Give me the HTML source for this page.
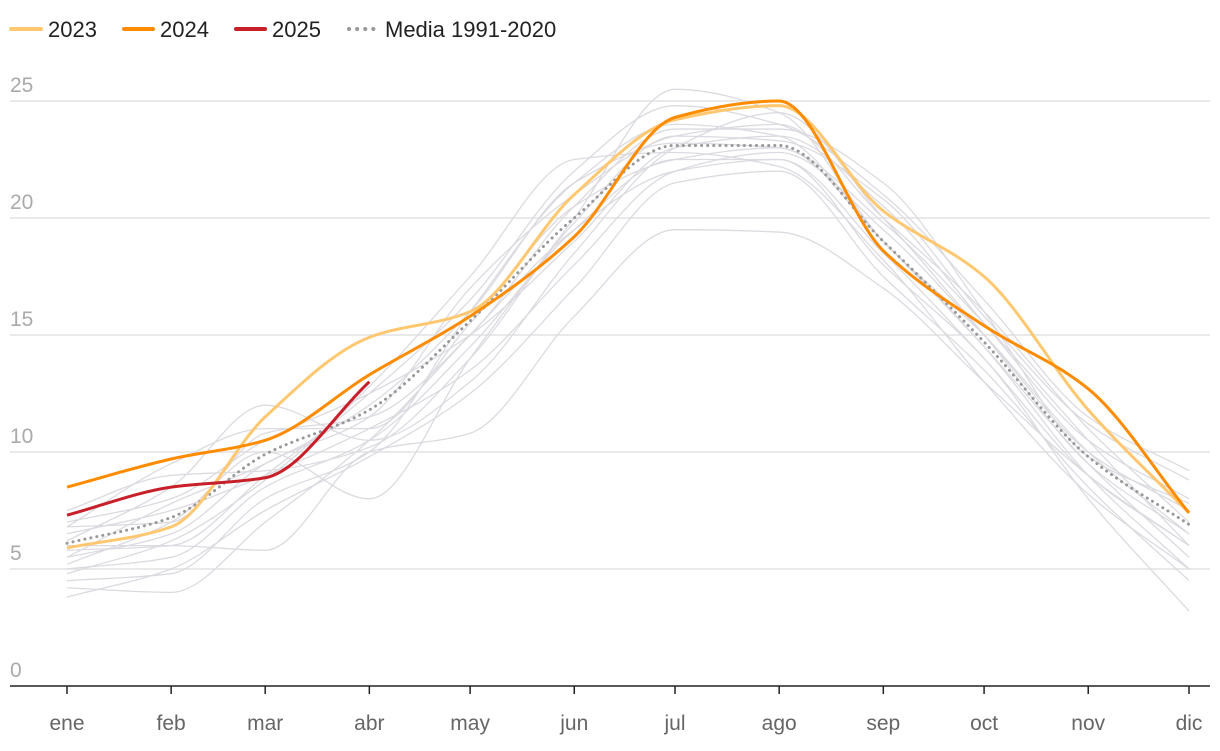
<!DOCTYPE html>
<html><head><meta charset="utf-8"><style>
body{margin:0;background:#fff;font-family:"Liberation Sans",sans-serif}
svg text{font-family:"Liberation Sans",sans-serif}
</style></head><body>
<svg id="chart" width="1220" height="746">
<g id="legend">
<g><line x1="11" y1="29" x2="41" y2="29" stroke="#ffc870" stroke-width="4" stroke-linecap="round"/><text x="48" y="37" font-size="22" fill="#222">2023</text></g>
<g><line x1="124" y1="29" x2="153" y2="29" stroke="#ff8c00" stroke-width="4" stroke-linecap="round"/><text x="160" y="37" font-size="22" fill="#222">2024</text></g>
<g><line x1="236" y1="29" x2="265" y2="29" stroke="#c8202a" stroke-width="4" stroke-linecap="round"/><text x="272" y="37" font-size="22" fill="#222">2025</text></g>
<g><line x1="349" y1="29" x2="378" y2="29" stroke="#999" stroke-width="4" stroke-linecap="round" stroke-dasharray="0.1 8"/><text x="385" y="37" font-size="22" fill="#222">Media 1991-2020</text></g>
</g>
<g id="grid"></g><g id="gray"></g><g id="main"></g><g id="xaxis"></g>
</svg>
<script>
const months=["ene","feb","mar","abr","may","jun","jul","ago","sep","oct","nov","dic"];
const monthDays=[0,31,59,90,120,151,181,212,243,273,304,334];
const yTicks=[0,5,10,15,20,25];
const s2023=[5.9,6.8,11.5,14.9,16.0,21.0,24.2,24.8,20.3,17.5,11.8,7.4];
const s2024=[8.5,9.7,10.5,13.3,15.8,19.2,24.3,25.0,18.6,15.4,12.7,7.4];
const s2025=[7.3,8.5,8.9,13.0];
const media=[6.1,7.2,9.9,11.8,15.6,20.0,23.1,23.1,19.0,14.7,9.8,6.9];
const g1=[5.0,5.5,8.5,10.5,14.5,19.5,22.5,22.5,18.5,14.0,9.0,6.0];
const g2=[6.5,7.5,9.0,11.0,13.5,18.0,22.0,22.8,19.5,15.0,10.0,7.5];
const g3=[4.5,4.8,8.0,10.0,16.0,21.5,24.0,23.5,19.0,14.5,9.5,5.5];
const g4=[7.0,8.0,10.5,12.5,15.0,19.0,23.0,23.5,20.5,15.5,10.5,8.0];
const g5=[3.8,5.0,7.5,9.8,12.5,17.0,21.5,22.0,17.5,13.5,8.5,4.5];
const g6=[5.5,6.5,9.5,11.5,17.0,21.0,23.5,24.0,20.0,16.0,11.0,7.0];
const g7=[6.0,6.0,5.8,10.0,10.8,15.8,19.5,19.4,17.0,13.0,9.0,6.0];
const g8=[5.2,7.0,10.0,8.0,14.0,20.0,25.5,24.5,19.0,15.0,10.0,6.5];
const g9=[6.8,9.5,11.0,11.0,15.5,20.5,22.5,23.0,19.0,14.5,9.0,5.0];
const g10=[4.2,4.0,7.0,10.5,15.0,19.5,22.0,22.5,18.0,14.0,8.0,3.2];
const g11=[5.8,6.0,9.0,12.5,16.5,22.0,24.8,24.0,21.0,16.5,11.5,9.2];
const g12=[6.2,8.5,12.0,10.5,13.0,18.5,23.0,24.5,20.0,15.0,9.5,6.5];
const g13=[5.5,7.8,9.5,12.0,16.0,21.5,23.2,23.0,19.8,15.5,10.5,6.0];
const g14=[6.8,7.0,10.8,11.5,15.0,20.5,23.8,23.8,21.5,16.0,9.8,7.8];
const g15=[4.8,6.2,8.8,12.8,17.5,22.5,22.8,22.2,18.2,13.0,8.2,5.0];
const g16=[7.5,9.0,9.2,10.2,14.0,19.8,23.5,23.3,20.8,15.8,11.2,8.8];
const grays=[g1,g2,g3,g4,g5,g6,g7,g8,g9,g10,g11,g12,g13,g14,g15,g16];
const NS="http://www.w3.org/2000/svg";
const x0=67,x1=1189,yBase=686,yTop=101;
function X(i){return x0+(x1-x0)*monthDays[i]/334;}
function Y(v){return yBase-(yBase-yTop)*v/25;}
function pathD(arr){
  const p=arr.map((v,i)=>[X(i),Y(v)]);const n=p.length;
  const dx=[],sl=[];
  for(let i=0;i<n-1;i++){dx[i]=p[i+1][0]-p[i][0];sl[i]=(p[i+1][1]-p[i][1])/dx[i];}
  const m=[];
  m[0]=sl[0];m[n-1]=sl[n-2];
  for(let i=1;i<n-1;i++){
    if(sl[i-1]*sl[i]<=0)m[i]=0;
    else{const w1=2*dx[i]+dx[i-1],w2=dx[i]+2*dx[i-1];m[i]=(w1+w2)/(w1/sl[i-1]+w2/sl[i]);}
  }
  let d="M"+p[0][0]+","+p[0][1];
  for(let i=0;i<n-1;i++){
    const h=dx[i]/3;
    d+=" C"+(p[i][0]+h)+","+(p[i][1]+m[i]*h)+" "+(p[i+1][0]-h)+","+(p[i+1][1]-m[i+1]*h)+" "+p[i+1][0]+","+p[i+1][1];
  }
  return d;
}
function mk(tag,attrs,parent){const e=document.createElementNS(NS,tag);for(const k in attrs)e.setAttribute(k,attrs[k]);parent.appendChild(e);return e;}
const grid=document.getElementById("grid");
yTicks.forEach(t=>{
  if(t>0){const l=mk("line",{x1:10,x2:1210,y1:Y(t),y2:Y(t),stroke:"#e2e2e2","stroke-width":1.5},grid);
  
  }
  const tx=mk("text",{x:10,y:Y(t)-9,"font-size":21,fill:"#aaa"},grid);tx.textContent=t;
  
  
});
const gg=document.getElementById("gray");
grays.forEach(s=>{
  const p=mk("path",{d:pathD(s),fill:"none",stroke:"#dcdae0","stroke-width":1.3},gg);
  
  
});
const m=document.getElementById("main");
const pm=mk("path",{d:pathD(media),fill:"none",stroke:"#999","stroke-width":3,"stroke-dasharray":"0.1 6","stroke-linecap":"round"},m);


const p23=mk("path",{d:pathD(s2023),fill:"none",stroke:"#ffc870","stroke-width":3},m);


const p24=mk("path",{d:pathD(s2024),fill:"none",stroke:"#ff8c00","stroke-width":3},m);


const p25=mk("path",{d:pathD(s2025),fill:"none",stroke:"#c8202a","stroke-width":3},m);


const xa=document.getElementById("xaxis");
const ax=mk("line",{x1:10,x2:1210,y1:yBase,y2:yBase,stroke:"#222","stroke-width":1.5},xa);


months.forEach((mo,i)=>{
  mk("line",{x1:X(i),x2:X(i),y1:yBase,y2:yBase+8,stroke:"#222","stroke-width":1.5},xa);
  const t=mk("text",{x:X(i),y:730,"font-size":21,fill:"#666","text-anchor":"middle"},xa);t.textContent=mo;
  
  
});
</script>
</body></html>
